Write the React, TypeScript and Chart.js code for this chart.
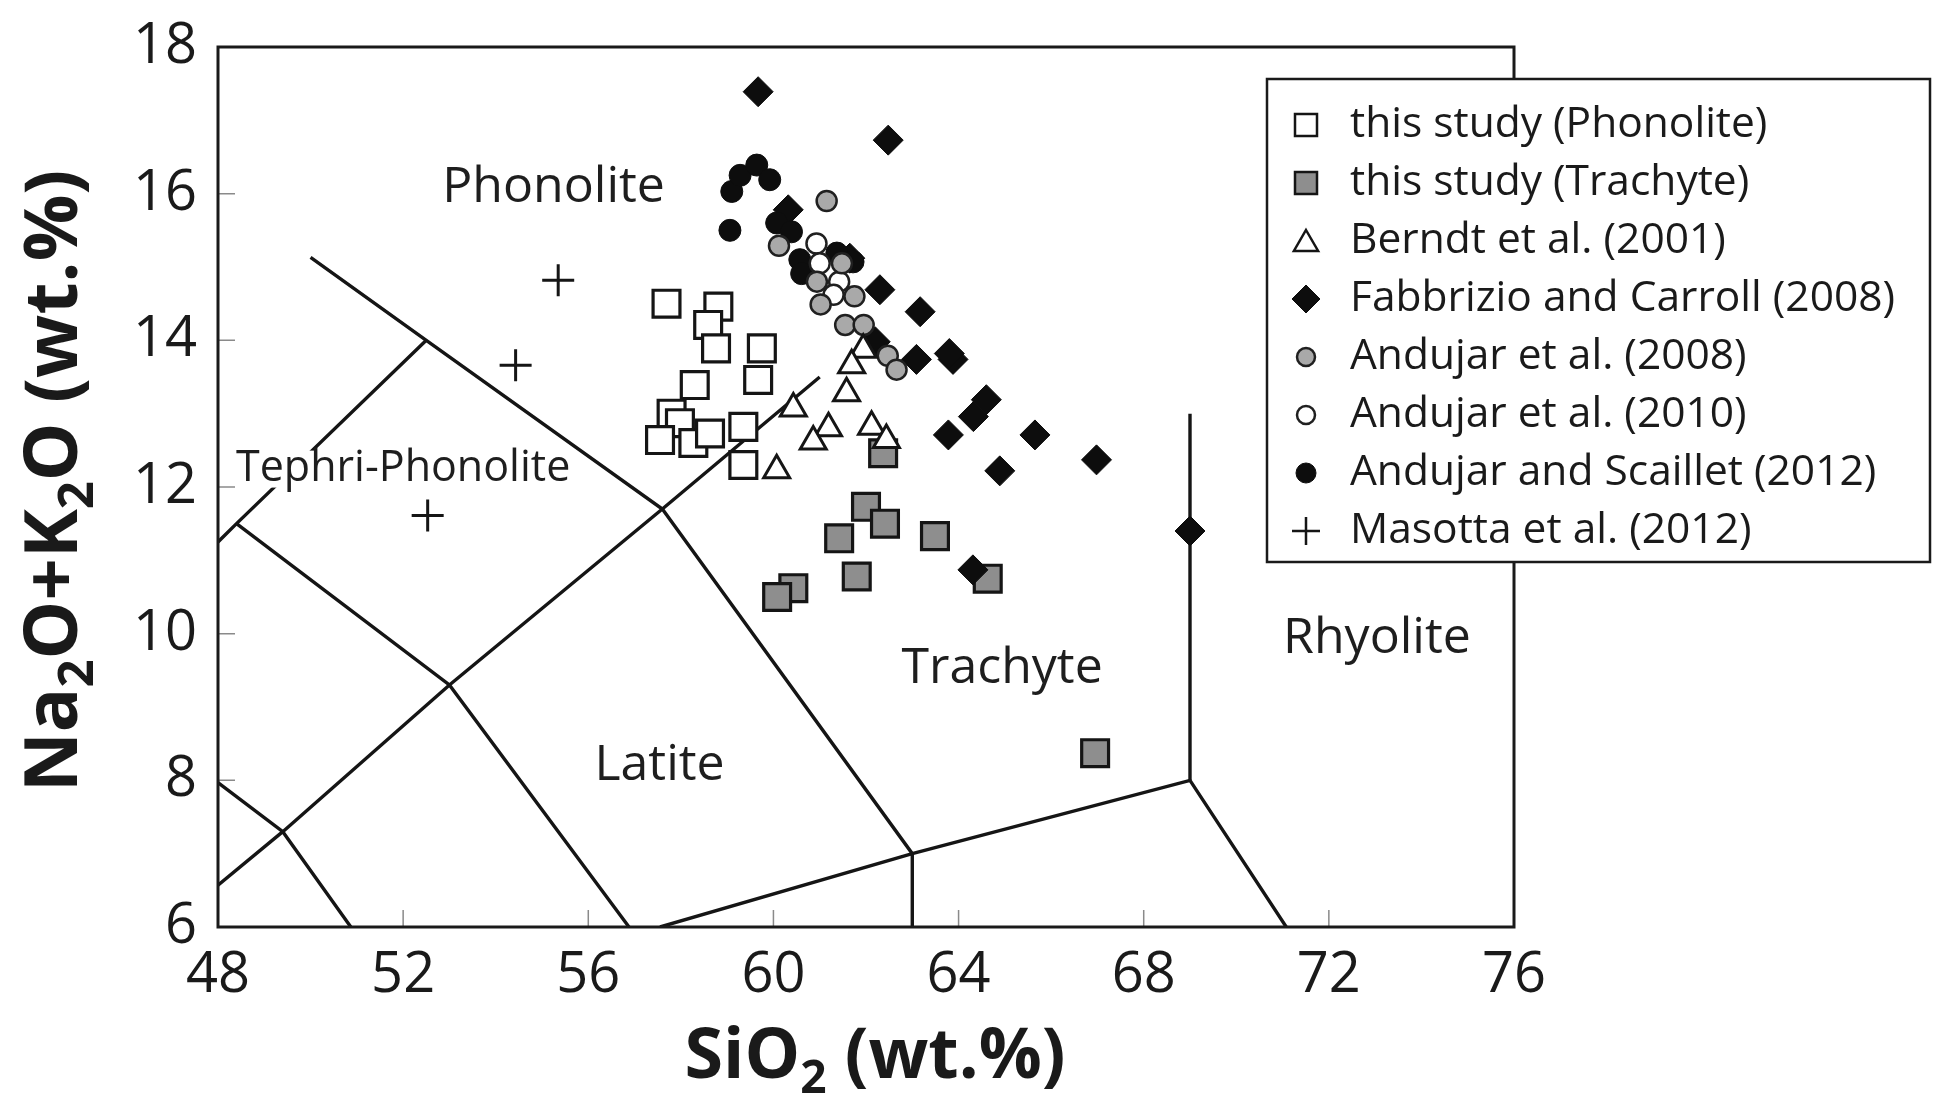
import React, { useEffect, useRef } from 'react';
import { Chart, registerables } from 'chart.js';

Chart.register(...registerables);

const FONT = "'Open Sans', 'Noto Sans', sans-serif";

// ---- axes ----
const X_MIN = 48;
const X_MAX = 76;
const X_STEP = 4;
const Y_MIN = 6;
const Y_MAX = 18;
const Y_STEP = 2;

// ---- series (SiO2 wt.%, Na2O+K2O wt.%) ----
const phonoliteSiO2 = [57.69, 58.81, 58.59, 58.76, 59.75, 59.67, 58.3, 57.8, 57.98, 57.55, 58.27, 58.63, 59.35, 59.35];
const phonoliteAlk = [14.5, 14.46, 14.21, 13.89, 13.89, 13.46, 13.39, 13.0, 12.87, 12.64, 12.6, 12.73, 12.82, 12.3];

const trachyteSiO2 = [62.0, 62.41, 61.42, 63.49, 61.8, 60.43, 60.08, 64.63, 62.37, 66.95];
const trachyteAlk = [11.73, 11.5, 11.3, 11.33, 10.78, 10.62, 10.5, 10.75, 12.46, 8.37];

const berndtSiO2 = [61.94, 61.69, 61.58, 60.43, 61.19, 60.86, 62.12, 62.44, 60.07];
const berndtAlk = [13.87, 13.66, 13.28, 13.07, 12.8, 12.62, 12.82, 12.64, 12.23];

const fabbrizioSiO2 = [59.67, 62.48, 60.32, 61.65, 62.3, 62.2, 63.17, 63.09, 63.88, 63.8, 64.6, 64.32, 63.78, 65.65, 64.89, 66.98, 69.0, 64.31];
const fabbrizioAlk = [17.39, 16.73, 15.78, 15.12, 14.69, 13.98, 14.39, 13.74, 13.74, 13.82, 13.19, 12.96, 12.71, 12.71, 12.22, 12.37, 11.4, 10.87];

const andujar08SiO2 = [61.15, 60.12, 60.94, 61.02, 61.75, 61.55, 61.95, 62.47, 62.66, 61.48];
const andujar08Alk = [15.9, 15.29, 14.8, 14.49, 14.6, 14.21, 14.21, 13.79, 13.6, 15.05];

const andujar10SiO2 = [60.93, 61.0, 61.42, 61.3];
const andujar10Alk = [15.32, 15.05, 14.8, 14.62];

const scailletSiO2 = [59.1, 59.28, 59.64, 59.92, 59.06, 60.07, 60.39, 60.57, 60.61, 61.37, 61.72];
const scailletAlk = [16.03, 16.25, 16.39, 16.19, 15.5, 15.6, 15.48, 15.1, 14.91, 15.19, 15.07];

const masottaSiO2 = [55.35, 54.43, 52.53];
const masottaAlk = [14.82, 13.66, 11.61];

const seriesNames = [
  'this study (Phonolite)',
  'this study (Trachyte)',
  'Berndt et al. (2001)',
  'Fabbrizio and Carroll (2008)',
  'Andujar et al. (2008)',
  'Andujar et al. (2010)',
  'Andujar and Scaillet (2012)',
  'Masotta et al. (2012)',
];

// ---- TAS field boundaries (clipped to the plotted window) ----
const boundary1 = [[50, 15.13], [52.5, 14], [57.6, 11.7], [63, 7], [63, 6]];
const boundary2 = [[48, 11.25], [48.4, 11.5], [52.5, 14]];
const boundary3 = [[48.4, 11.5], [53, 9.3], [56.88, 6]];
const boundary4 = [[48, 6.57], [49.4, 7.3], [53, 9.3], [57.6, 11.7], [61, 13.5]];
const boundary5 = [[48, 7.97], [49.4, 7.3], [50.87, 6]];
const boundary6 = [[57.55, 6], [63, 7], [69, 8], [71.08, 6]];
const boundary7 = [[69, 8], [69, 13]];

// ---- field names ----
const fieldNames = ['Phonolite', 'Tephri-Phonolite', 'Latite', 'Trachyte', 'Rhyolite'];
const fieldSiO2 = [55.25, 52.0, 57.54, 64.94, 73.04];
const fieldAlk = [16.08, 12.25, 8.2, 9.52, 9.93];

const zip = (xs: number[], ys: number[]) => xs.map((x, i) => ({ x, y: ys[i] }));
const pts = (arr: number[][]) => arr.map(([x, y]) => ({ x, y }));

function drawMarker(ctx: CanvasRenderingContext2D, style: string, x: number, y: number, r: number, fill: string, stroke: string, lw: number) {
  ctx.save();
  ctx.beginPath();
  if (style === 'rect') {
    ctx.rect(x - r, y - r, 2 * r, 2 * r);
  } else if (style === 'triangle') {
    ctx.moveTo(x, y - r);
    ctx.lineTo(x + r * 0.866, y + r * 0.5);
    ctx.lineTo(x - r * 0.866, y + r * 0.5);
    ctx.closePath();
  } else if (style === 'rectRot') {
    ctx.moveTo(x, y - r);
    ctx.lineTo(x + r, y);
    ctx.lineTo(x, y + r);
    ctx.lineTo(x - r, y);
    ctx.closePath();
  } else if (style === 'circle') {
    ctx.arc(x, y, r, 0, Math.PI * 2);
  } else if (style === 'cross') {
    ctx.moveTo(x - r, y);
    ctx.lineTo(x + r, y);
    ctx.moveTo(x, y - r);
    ctx.lineTo(x, y + r);
  }
  if (style !== 'cross') {
    ctx.fillStyle = fill;
    ctx.fill();
  }
  ctx.lineWidth = lw;
  ctx.strokeStyle = stroke;
  ctx.stroke();
  ctx.restore();
}

function drawSubText(ctx: CanvasRenderingContext2D, parts: [string, boolean][], cx: number, baseY: number, size: number) {
  const subSize = Math.round(size * 0.66);
  const widths = parts.map(([t, sub]) => {
    ctx.font = `bold ${sub ? subSize : size}px ${FONT}`;
    return ctx.measureText(t).width;
  });
  const total = widths.reduce((a, b) => a + b, 0);
  let x = cx - total / 2;
  ctx.textAlign = 'left';
  ctx.textBaseline = 'alphabetic';
  parts.forEach(([t, sub], i) => {
    ctx.font = `bold ${sub ? subSize : size}px ${FONT}`;
    ctx.fillText(t, x, baseY + (sub ? size * 0.22 : 0));
    x += widths[i];
  });
}

const overlayPlugin = {
  id: 'tasOverlay',
  afterDatasetsDraw(chart: any) {
    const ctx: CanvasRenderingContext2D = chart.ctx;
    const { left, right, top, bottom } = chart.chartArea;
    const xs = chart.scales.x;
    const ys = chart.scales.y;

    // field names
    ctx.save();
    fieldNames.forEach((name, i) => {
      const px = xs.getPixelForValue(fieldSiO2[i]);
      const py = ys.getPixelForValue(fieldAlk[i]);
      const size = name === 'Tephri-Phonolite' ? 43 : 50;
      ctx.font = `${size}px ${FONT}`;
      ctx.textAlign = 'center';
      ctx.textBaseline = 'middle';
      if (name === 'Tephri-Phonolite') {
        const w = ctx.measureText(name).width;
        ctx.fillStyle = '#ffffff';
        ctx.fillRect(px - w / 2 - 4, py - size * 0.42, w + 8, size * 0.86);
      }
      ctx.fillStyle = '#1e1e1e';
      ctx.fillText(name, px, py);
    });
    ctx.restore();

    // inner tick marks
    ctx.save();
    ctx.strokeStyle = '#8a8a8a';
    ctx.lineWidth = 1.5;
    ctx.beginPath();
    xs.ticks.forEach((t: any) => {
      if (t.value <= X_MIN || t.value >= X_MAX) return;
      const px = xs.getPixelForValue(t.value);
      ctx.moveTo(px, bottom);
      ctx.lineTo(px, bottom - 17);
    });
    ys.ticks.forEach((t: any) => {
      if (t.value <= Y_MIN || t.value >= Y_MAX) return;
      const py = ys.getPixelForValue(t.value);
      ctx.moveTo(left, py);
      ctx.lineTo(left + 17, py);
    });
    ctx.stroke();
    ctx.restore();

    // frame
    ctx.save();
    ctx.strokeStyle = '#1a1a1a';
    ctx.lineWidth = 3;
    ctx.strokeRect(left, top, right - left, bottom - top);
    ctx.restore();
  },
  afterDraw(chart: any) {
    const ctx: CanvasRenderingContext2D = chart.ctx;
    const { left, right } = chart.chartArea;

    // axis titles
    ctx.save();
    ctx.fillStyle = '#1a1a1a';
    drawSubText(ctx, [['SiO', false], ['2', true], [' (wt.%)', false]], (left + right) / 2 + 9, 1078, 70);
    ctx.translate(77, 481);
    ctx.rotate(-Math.PI / 2);
    drawSubText(ctx, [['Na', false], ['2', true], ['O+K', false], ['2', true], ['O (wt.%)', false]], 0, 0, 74);
    ctx.restore();

    // legend
    const bx = 1267;
    const by = 79;
    const bw = 663;
    const bh = 483;
    ctx.save();
    ctx.fillStyle = '#ffffff';
    ctx.fillRect(bx, by, bw, bh);
    ctx.strokeStyle = '#1a1a1a';
    ctx.lineWidth = 2.5;
    ctx.strokeRect(bx, by, bw, bh);
    const legendSizes = [11, 11, 14, 14, 9, 9, 10, 14];
    seriesNames.forEach((name, i) => {
      const ds = chart.data.datasets[i];
      const cy = 125 + i * 58;
      const cx = 1306;
      drawMarker(ctx, ds.pointStyle, cx, ds.pointStyle === 'triangle' ? cy + 3 : cy, legendSizes[i], ds.backgroundColor, ds.borderColor, Math.min(ds.borderWidth, 2.5));
      ctx.font = `42.5px ${FONT}`;
      ctx.fillStyle = '#1a1a1a';
      ctx.textAlign = 'left';
      ctx.textBaseline = 'middle';
      ctx.fillText(name, 1350, cy);
    });
    ctx.restore();
  },
};

export default function App() {
  const canvasRef = useRef<HTMLCanvasElement | null>(null);

  useEffect(() => {
    document.body.style.margin = '0';
    const canvas = canvasRef.current;
    if (!canvas) return;

    const lineDs = (arr: number[][]) => ({
      type: 'scatter' as const,
      data: pts(arr),
      showLine: true,
      pointRadius: 0,
      borderColor: '#151515',
      backgroundColor: '#151515',
      borderWidth: 3.4,
      fill: false,
      order: 100,
    });

    const chart = new Chart(canvas, {
      type: 'scatter',
      data: {
        datasets: [
          { label: seriesNames[0], data: zip(phonoliteSiO2, phonoliteAlk), pointStyle: 'rect', pointRadius: 19, backgroundColor: '#ffffff', borderColor: '#151515', borderWidth: 3.2, order: 10 },
          { label: seriesNames[1], data: zip(trachyteSiO2, trachyteAlk), pointStyle: 'rect', pointRadius: 19, backgroundColor: '#8e8e8e', borderColor: '#151515', borderWidth: 3.2, order: 11 },
          { label: seriesNames[2], data: zip(berndtSiO2, berndtAlk), pointStyle: 'triangle', pointRadius: 15, backgroundColor: '#ffffff', borderColor: '#151515', borderWidth: 3, order: 2 },
          { label: seriesNames[3], data: zip(fabbrizioSiO2, fabbrizioAlk), pointStyle: 'rectRot', pointRadius: 15, backgroundColor: '#0d0d0d', borderColor: '#0d0d0d', borderWidth: 1, order: 9 },
          { label: seriesNames[4], data: zip(andujar08SiO2, andujar08Alk), pointStyle: 'circle', pointRadius: 10, backgroundColor: '#a9a9a9', borderColor: '#202020', borderWidth: 2.5, order: 4 },
          { label: seriesNames[5], data: zip(andujar10SiO2, andujar10Alk), pointStyle: 'circle', pointRadius: 10, backgroundColor: '#ffffff', borderColor: '#202020', borderWidth: 2.5, order: 5 },
          { label: seriesNames[6], data: zip(scailletSiO2, scailletAlk), pointStyle: 'circle', pointRadius: 11, backgroundColor: '#0d0d0d', borderColor: '#0d0d0d', borderWidth: 1, order: 8 },
          { label: seriesNames[7], data: zip(masottaSiO2, masottaAlk), pointStyle: 'cross', pointRadius: 16, backgroundColor: '#151515', borderColor: '#151515', borderWidth: 3, order: 3 },
          lineDs(boundary1),
          lineDs(boundary2),
          lineDs(boundary3),
          lineDs(boundary4),
          lineDs(boundary5),
          lineDs(boundary6),
          lineDs(boundary7),
        ] as any,
      },
      options: {
        animation: false,
        responsive: false,
        devicePixelRatio: 1,
        events: [],
        layout: { padding: { left: 0, top: 47, right: 419, bottom: 0 } },
        plugins: {
          legend: { display: false },
          tooltip: { enabled: false },
        },
        scales: {
          x: {
            type: 'linear',
            min: X_MIN,
            max: X_MAX,
            grid: { display: false, drawTicks: false },
            border: { display: false },
            ticks: {
              stepSize: X_STEP,
              autoSkip: false,
              maxRotation: 0,
              padding: 24,
              color: '#1a1a1a',
              font: { family: FONT, size: 56, lineHeight: 0.9 },
            },
            afterFit: (s: any) => {
              s.height = 175;
            },
          },
          y: {
            type: 'linear',
            min: Y_MIN,
            max: Y_MAX,
            grid: { display: false, drawTicks: false },
            border: { display: false },
            ticks: {
              stepSize: Y_STEP,
              autoSkip: false,
              padding: 21,
              color: '#1a1a1a',
              font: { family: FONT, size: 56, lineHeight: 0.9 },
            },
            afterFit: (s: any) => {
              s.width = 218;
            },
          },
        },
      } as any,
      plugins: [overlayPlugin],
    });

    return () => {
      chart.destroy();
    };
  }, []);

  return (
    <div style={{ width: 1933, height: 1102, background: '#ffffff' }}>
      <canvas ref={canvasRef} width={1933} height={1102} style={{ display: 'block', width: 1933, height: 1102 }} />
    </div>
  );
}
